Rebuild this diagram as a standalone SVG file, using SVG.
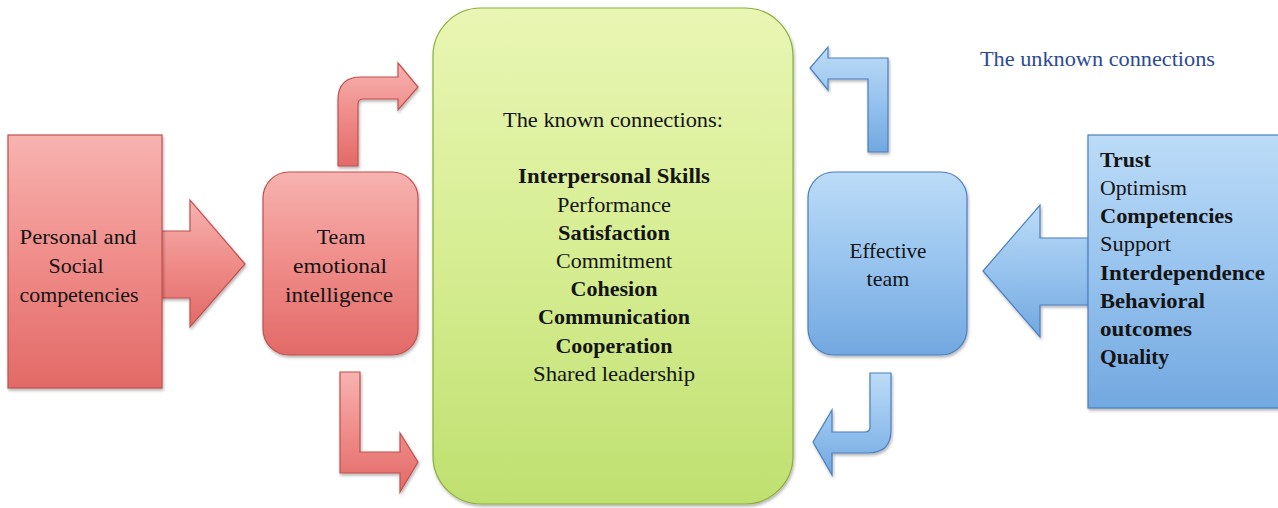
<svg xmlns="http://www.w3.org/2000/svg" width="1278" height="508" viewBox="0 0 1278 508">
  <defs>
    <linearGradient id="gRed" x1="0" y1="0" x2="0" y2="1">
      <stop offset="0" stop-color="#f7b3b0"/>
      <stop offset="0.5" stop-color="#ef8c89"/>
      <stop offset="1" stop-color="#e26a67"/>
    </linearGradient>
    <linearGradient id="gRedH" x1="0" y1="0" x2="1" y2="0">
      <stop offset="0" stop-color="#ee8683"/>
      <stop offset="1" stop-color="#f29c99"/>
    </linearGradient>
    <linearGradient id="gBlue" x1="0" y1="0" x2="0" y2="1">
      <stop offset="0" stop-color="#bcdcf7"/>
      <stop offset="0.5" stop-color="#97c3ee"/>
      <stop offset="1" stop-color="#72a8e0"/>
    </linearGradient>
    <linearGradient id="gGreen" x1="0" y1="0" x2="0" y2="1">
      <stop offset="0" stop-color="#e9f6b4"/>
      <stop offset="0.5" stop-color="#d6ed92"/>
      <stop offset="1" stop-color="#bfe070"/>
    </linearGradient>
    <filter id="shadow" x="-10%" y="-10%" width="120%" height="120%">
      <feDropShadow dx="1" dy="2" stdDeviation="1.5" flood-color="#000" flood-opacity="0.3"/>
    </filter>
  </defs>
  <style>
    .red { fill: url(#gRed); stroke: #c0504d; stroke-width: 1.2; filter: url(#shadow); }
    .blue { fill: url(#gBlue); stroke: #4a7ebf; stroke-width: 1.2; filter: url(#shadow); }
    .green { fill: url(#gGreen); stroke: #8cae3c; stroke-width: 1.2; filter: url(#shadow); }
    text { font-family: "Liberation Serif", "Times New Roman", serif; font-size: 22px; fill: #141414; }
    .c { text-anchor: middle; }
    .b { font-weight: bold; }
    .title { fill: #2b4a93; font-size: 21px; }
  </style>

  <rect width="1278" height="508" fill="#ffffff"/>

  <!-- arrows between the boxes -->
  <g id="connectors">
    <!-- competencies to team emotional intelligence -->
    <path class="red" d="M160,231 H190 V200 L245,264 L190,327 V298 H160 Z"/>
    <!-- team emotional intelligence up-and-over into the known connections -->
    <path class="red" d="M338,166 V100 Q338,77 361,77 H398 V63 L418,87 L398,110 V99 H363 Q358,99 358,104 V166 Z"/>
    <!-- team emotional intelligence down-and-over into the known connections -->
    <path class="red" d="M340,372 H360 V452 H400 V433 L418,462 L400,492 V473 H340 Z"/>
    <!-- effective team up-and-back into the known connections -->
    <path class="blue" d="M868,152 V79 H828 V90 L810,68 L828,47 V58 H888 V152 Z"/>
    <!-- effective team down-and-back into the known connections -->
    <path class="blue" d="M870,373 H891 V430 Q891,453 868,453 H832 V475 L813,442 L832,410 V432 H865 Q870,432 870,427 Z"/>
    <!-- unknown connections into effective team -->
    <path class="blue" d="M1090,238 H1040 V205 L983,271 L1040,337 V305 H1090 Z"/>
  </g>

  <g id="personal-social">
    <rect class="red" x="8" y="135" width="154" height="253"/>
    <text class="c" x="78" y="244" textLength="117" lengthAdjust="spacingAndGlyphs">Personal and</text>
    <text class="c" x="76" y="273">Social</text>
    <text class="c" x="79" y="302" textLength="119" lengthAdjust="spacingAndGlyphs">competencies</text>
  </g>

  <g id="team-ei">
    <rect class="red" x="263" y="172" width="155" height="183" rx="26"/>
    <text class="c" x="341" y="244">Team</text>
    <text class="c" x="340" y="273" textLength="94" lengthAdjust="spacingAndGlyphs">emotional</text>
    <text class="c" x="339" y="302" textLength="108" lengthAdjust="spacingAndGlyphs">intelligence</text>
  </g>

  <g id="known-connections">
    <rect class="green" x="433" y="8" width="360" height="496" rx="48"/>
    <text class="c" x="613" y="127" textLength="220" lengthAdjust="spacingAndGlyphs">The known connections:</text>
    <text class="c b" x="614" y="183" textLength="192" lengthAdjust="spacingAndGlyphs">Interpersonal Skills</text>
    <text class="c" x="614" y="212" textLength="114" lengthAdjust="spacingAndGlyphs">Performance</text>
    <text class="c b" x="614" y="240" textLength="112" lengthAdjust="spacingAndGlyphs">Satisfaction</text>
    <text class="c" x="614" y="268" textLength="116" lengthAdjust="spacingAndGlyphs">Commitment</text>
    <text class="c b" x="614" y="296" textLength="87" lengthAdjust="spacingAndGlyphs">Cohesion</text>
    <text class="c b" x="614" y="324" textLength="152" lengthAdjust="spacingAndGlyphs">Communication</text>
    <text class="c b" x="614" y="353" textLength="117" lengthAdjust="spacingAndGlyphs">Cooperation</text>
    <text class="c" x="614" y="381" textLength="162" lengthAdjust="spacingAndGlyphs">Shared leadership</text>
  </g>

  <g id="effective-team">
    <rect class="blue" x="808" y="172" width="159" height="183" rx="26"/>
    <text class="c" x="888" y="258" textLength="77" lengthAdjust="spacingAndGlyphs">Effective</text>
    <text class="c" x="888" y="286">team</text>
  </g>

  <g id="unknown-connections">
    <text class="title" x="980" y="66" textLength="235" lengthAdjust="spacingAndGlyphs">The unknown connections</text>
    <rect class="blue" x="1088" y="135" width="194" height="273"/>
    <text class="b" x="1100" y="167">Trust</text>
    <text x="1100" y="195" textLength="87" lengthAdjust="spacingAndGlyphs">Optimism</text>
    <text class="b" x="1100" y="223" textLength="133" lengthAdjust="spacingAndGlyphs">Competencies</text>
    <text x="1100" y="251" textLength="71" lengthAdjust="spacingAndGlyphs">Support</text>
    <text class="b" x="1100" y="280" textLength="165" lengthAdjust="spacingAndGlyphs">Interdependence</text>
    <text class="b" x="1100" y="308" textLength="105" lengthAdjust="spacingAndGlyphs">Behavioral</text>
    <text class="b" x="1100" y="336" textLength="92" lengthAdjust="spacingAndGlyphs">outcomes</text>
    <text class="b" x="1100" y="364" textLength="69" lengthAdjust="spacingAndGlyphs">Quality</text>
  </g>
</svg>
